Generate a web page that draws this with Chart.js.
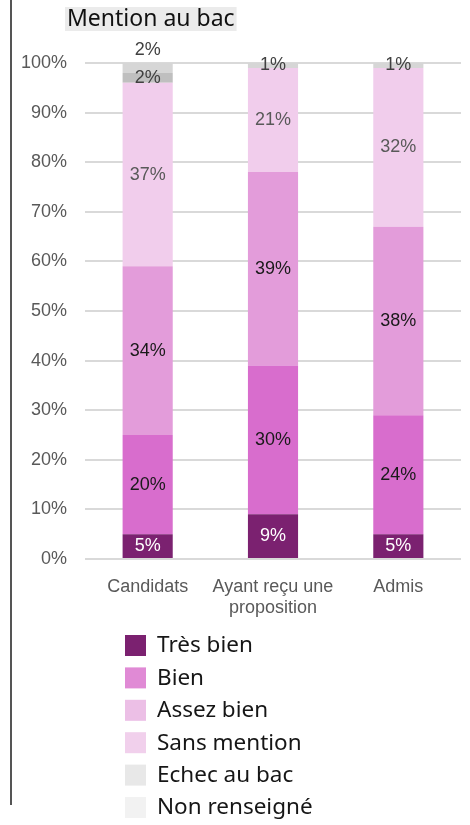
<!DOCTYPE html>
<html>
<head>
<meta charset="utf-8">
<script src="https://cdn.jsdelivr.net/npm/chart.js@4"></script>
<style>
  body { margin: 0; background: #fff; }
</style>
</head>
<body>
<canvas id="chartMention" width="470" height="825"></canvas>
<script>
/* donnees */
const categories = ['Candidats', ['Ayant reçu une', 'proposition'], 'Admis'];
const mentions = ['Très bien', 'Bien', 'Assez bien', 'Sans mention', 'Echec au bac', 'Non renseigné'];
const tresBien = [5, 9, 5];
const bien = [20, 30, 24];
const assezBien = [34, 39, 38];
const sansMention = [37, 21, 32];
const echec = [2, null, null];
const nonRenseigne = [2, 1, 1];
const yTicks = [0, 10, 20, 30, 40, 50, 60, 70, 80, 90, 100];

const barColors = ['#7b2170', '#d86dcd', '#e39cda', '#f1cdec', '#bfbfbf', '#d6d6d6'];
const legendColors = ['#7b2170', '#e08ad5', '#ecbfe6', '#f1d0ec', '#e8e8e8', '#f2f2f2'];
const labelColors = ['#ffffff', '#1a1a1a', '#1a1a1a', '#595959', '#404040', '#404040'];

const series = [tresBien, bien, assezBien, sansMention, echec, nonRenseigne];
const fontAxe = "'Liberation Sans', Arial";

/* titre, trait vertical, etiquettes et legende */
const decorPlugin = {
    id: 'decor',
    beforeDraw(chart) {
        const c = chart.ctx;
        c.save();
        c.fillStyle = '#555555';
        c.fillRect(10, 0, 2, 805);
        c.font = "23px 'Noto Sans'";
        const w = c.measureText('Mention au bac').width;
        c.fillStyle = '#ebebeb';
        c.fillRect(65, 7, w + 4, 24);
        c.fillStyle = '#111111';
        c.textBaseline = 'middle';
        c.textAlign = 'left';
        c.fillText('Mention au bac', 67, 19);
        c.restore();
    },
    afterDatasetsDraw(chart) {
        const c = chart.ctx;
        c.save();
        c.font = "18px " + fontAxe;
        c.textAlign = 'center';
        c.textBaseline = 'middle';
        chart.data.datasets.forEach((ds, i) => {
            const meta = chart.getDatasetMeta(i);
            meta.data.forEach((bar, j) => {
                const v = ds.data[j];
                if (v === null || v === undefined) return;
                let y = (bar.y + bar.base) / 2;
                // eviter le chevauchement avec l'etiquette du dessous
                if (i > 0) {
                    const prev = chart.getDatasetMeta(i - 1).data[j];
                    const pv = chart.data.datasets[i - 1].data[j];
                    if (pv !== null && prev && ((prev.y + prev.base) / 2 - y) < 12) {
                        y = bar.y - 13;
                    }
                }
                c.fillStyle = labelColors[i];
                c.fillText(v + '%', bar.x, y);
            });
        });
        // legende verticale
        c.font = "22.5px 'Noto Sans'";
        c.textAlign = 'left';
        mentions.forEach((m, i) => {
            const y = 645 + i * 32.4;
            c.fillStyle = legendColors[i];
            c.fillRect(125, y - 10, 21, 21);
            c.fillStyle = '#161616';
            c.fillText(m, 157, y + 1);
        });
        c.restore();
    }
};

const ctx = document.getElementById('chartMention');
new Chart(ctx, {
    type: 'bar',
    data: {
        labels: categories,
        datasets: mentions.map((m, i) => ({
            label: m,
            data: series[i],
            backgroundColor: barColors[i],
            borderWidth: 0,
            barPercentage: 0.4,
            categoryPercentage: 1
        }))
    },
    options: {
        responsive: false,
        animation: false,
        layout: {
            padding: { top: 63, left: 0, right: 9, bottom: 206 }
        },
        scales: {
            x: {
                stacked: true,
                grid: { display: false },
                border: { display: false },
                afterFit: (a) => { a.height = 60; },
                ticks: {
                    color: '#595959',
                    padding: 9,
                    maxRotation: 0,
                    minRotation: 0,
                    autoSkip: false,
                    font: { size: 18, family: fontAxe }
                }
            },
            y: {
                stacked: true,
                min: 0,
                max: 100,
                afterFit: (a) => { a.width = 85; },
                afterBuildTicks: (axis) => { axis.ticks = yTicks.map(v => ({ value: v })); },
                grid: { color: '#d9d9d9', lineWidth: 2, drawTicks: false },
                border: { display: false },
                ticks: {
                    color: '#595959',
                    padding: 18,
                    font: { size: 18, family: fontAxe },
                    callback: (v) => v + '%'
                }
            }
        },
        plugins: {
            legend: { display: false },
            tooltip: { enabled: false }
        }
    },
    plugins: [decorPlugin]
});
</script>
</body>
</html>
